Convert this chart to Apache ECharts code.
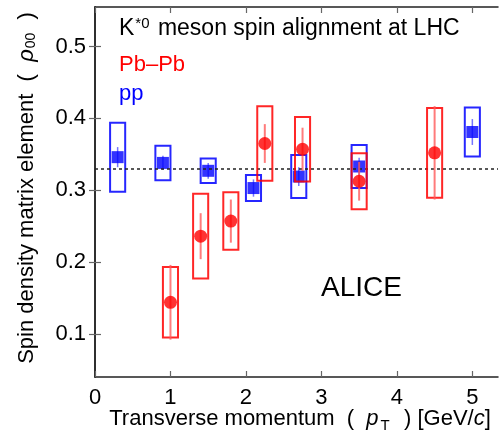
<!DOCTYPE html>
<html>
<head>
<meta charset="utf-8">
<script src="https://cdn.jsdelivr.net/npm/echarts@6/dist/echarts.min.js"></script>
<style>html,body{margin:0;padding:0;background:#fff}#c{width:503px;height:441px}</style>
</head>
<body>
<div id="c"></div>
<script>
// ---- data ----
const ppPt   = [0.3, 0.9, 1.5, 2.1, 2.7, 3.5, 5.0];
const ppRho  = [0.346, 0.338, 0.327, 0.303, 0.319, 0.333, 0.381];
const ppStat = [0.014, 0.010, 0.011, 0.012, 0.013, 0.012, 0.018];
const ppSys  = [0.048, 0.024, 0.017, 0.018, 0.030, 0.030, 0.034];

const pbPt   = [1.0, 1.4, 1.8, 2.25, 2.75, 3.5, 4.5];
const pbRho  = [0.144, 0.236, 0.257, 0.365, 0.357, 0.3125, 0.352];
const pbStat = [0.052, 0.032, 0.030, 0.027, 0.030, 0.027, 0.065];
const pbSys  = [0.049, 0.059, 0.040, 0.052, 0.045, 0.039, 0.0625];

const unpolarized = 1 / 3;
const xTicks = [0, 1, 2, 3, 4, 5];
const yTicks = [0.1, 0.2, 0.3, 0.4, 0.5];

// ---- build ----
const FONT = 'Liberation Sans, Arial, Helvetica, sans-serif';
const BOX_HALF = 0.1;

function sysData(pt, rho, sys) { return pt.map((x, i) => [x, rho[i] - sys[i], rho[i] + sys[i]]); }
function statData(pt, rho, st) { return pt.map((x, i) => [x, rho[i] - st[i], rho[i] + st[i]]); }
function pts(pt, rho) { return pt.map((x, i) => [x, rho[i]]); }

function boxRender(color, lw) {
  return function (params, api) {
    const x = api.value(0), lo = api.value(1), hi = api.value(2);
    const a = api.coord([x - BOX_HALF, hi]);
    const b = api.coord([x + BOX_HALF, lo]);
    return { type: 'rect', shape: { x: a[0], y: a[1], width: b[0] - a[0], height: b[1] - a[1] },
      style: { fill: 'none', stroke: color, lineWidth: lw } };
  };
}
function barRender(color, lw) {
  return function (params, api) {
    const x = api.value(0), lo = api.value(1), hi = api.value(2);
    const a = api.coord([x, hi]);
    const b = api.coord([x, lo]);
    return { type: 'line', shape: { x1: a[0], y1: a[1], x2: b[0], y2: b[1] },
      style: { stroke: color, lineWidth: lw } };
  };
}

const axisCommon = {
  axisLine: { show: true, lineStyle: { color: '#222', width: 1.5 } },
  axisTick: { show: true, inside: true, length: 6, lineStyle: { color: '#666', width: 1.2 } },
  splitLine: { show: false }
};

const chart = echarts.init(document.getElementById('c'), null, { renderer: 'canvas' });
chart.setOption({
  animation: false,
  backgroundColor: '#fff',
  grid: { left: 95, right: 5, top: 7, bottom: 64, containLabel: false },
  xAxis: [
    Object.assign({}, axisCommon, {
      type: 'value', min: 0, max: 5.34, position: 'bottom',
      axisTick: Object.assign({}, axisCommon.axisTick, { customValues: xTicks }),
      axisLabel: { customValues: xTicks, margin: 10, fontSize: 22, color: '#000', fontFamily: FONT }
    }),
    Object.assign({}, axisCommon, {
      type: 'value', min: 0, max: 5.34, position: 'top',
      axisTick: Object.assign({}, axisCommon.axisTick, { customValues: xTicks }),
      axisLabel: { show: false }
    })
  ],
  yAxis: [
    Object.assign({}, axisCommon, {
      type: 'value', min: 0.04, max: 0.555, position: 'left',
      axisTick: Object.assign({}, axisCommon.axisTick, { customValues: yTicks }),
      axisLabel: { customValues: yTicks, margin: 9, fontSize: 22, color: '#000', fontFamily: FONT,
        formatter: v => v.toFixed(1) }
    }),
    Object.assign({}, axisCommon, {
      type: 'value', min: 0.04, max: 0.555, position: 'right',
      axisTick: Object.assign({}, axisCommon.axisTick, { customValues: yTicks }),
      axisLabel: { show: false }
    })
  ],
  graphic: [
    { type: 'text', left: 119, top: 16, style: {
      text: 'K{sup|*0} meson spin alignment at LHC', fontSize: 23, fontFamily: FONT, fill: '#000',
      rich: { sup: { fontSize: 15, fontFamily: FONT, padding: [0, 2, 11, 1], fill: '#000' } } } },
    { type: 'text', left: 119, top: 54, style: { text: 'Pb–Pb', fontSize: 22, fontFamily: FONT, fill: '#ff0000' } },
    { type: 'text', left: 119, top: 83, style: { text: 'pp', fontSize: 22, fontFamily: FONT, fill: '#0000ff' } },
    { type: 'text', left: 321, top: 274, style: { text: 'ALICE', fontSize: 28, fontFamily: FONT, fill: '#000' } },
    { type: 'text', x: 27, y: 188, rotation: Math.PI / 2, style: {
      text: 'Spin density matrix element  (  {i|ρ}{sub|00}  )', fontSize: 22, fontFamily: FONT, fill: '#000',
      align: 'center', verticalAlign: 'middle',
      rich: { i: { fontStyle: 'italic', fontSize: 22, fontFamily: FONT, fill: '#000' },
              sub: { fontSize: 14, fontFamily: FONT, fill: '#000', padding: [9, 1, 0, 1] } } } },
    { type: 'text', x: 300, y: 419, style: {
      text: 'Transverse momentum  (  {i|p}{sub|T}  ) [GeV/{i|c}]', fontSize: 22, fontFamily: FONT, fill: '#000',
      align: 'center', verticalAlign: 'middle',
      rich: { i: { fontStyle: 'italic', fontSize: 22, fontFamily: FONT, fill: '#000' },
              sub: { fontSize: 15, fontFamily: FONT, fill: '#000', padding: [14, 2, 0, 2] } } } }
  ],
  series: [
    { type: 'line', data: [], markLine: { silent: true, symbol: 'none', label: { show: false },
        lineStyle: { color: '#222', type: [3, 3], width: 1.5 }, data: [{ yAxis: unpolarized }] } },
    { type: 'custom', renderItem: boxRender('rgba(0,0,255,0.85)', 2), data: sysData(ppPt, ppRho, ppSys), z: 2 },
    { type: 'custom', renderItem: barRender('rgba(80,80,255,0.8)', 1.5), data: statData(ppPt, ppRho, ppStat), z: 3 },
    { type: 'scatter', symbol: 'rect', symbolSize: 12, itemStyle: { color: '#0000ff' }, data: pts(ppPt, ppRho), z: 4 },
    { type: 'custom', renderItem: boxRender('rgba(255,0,0,0.85)', 2), data: sysData(pbPt, pbRho, pbSys), z: 5 },
    { type: 'custom', renderItem: barRender('rgba(255,90,90,0.8)', 2), data: statData(pbPt, pbRho, pbStat), z: 6 },
    { type: 'scatter', symbol: 'circle', symbolSize: 13, itemStyle: { color: '#ff0000' }, data: pts(pbPt, pbRho), z: 7 }
  ]
});
</script>
</body>
</html>
